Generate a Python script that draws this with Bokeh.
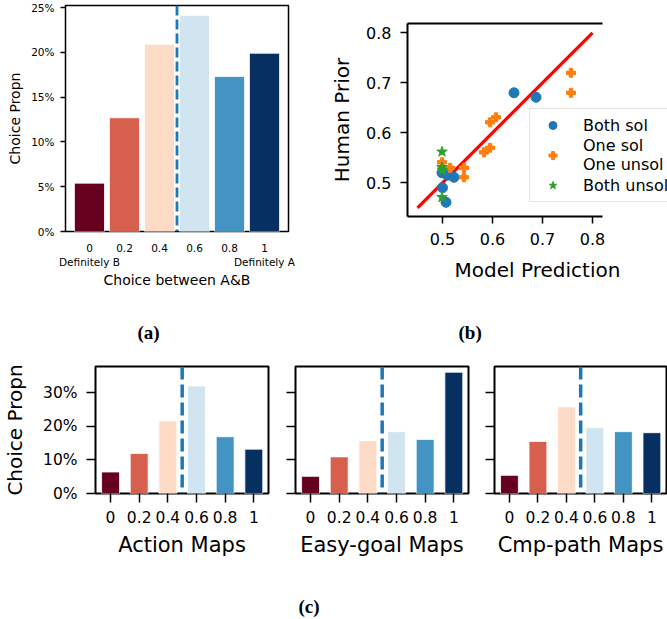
from bokeh.plotting import figure
from bokeh.models import (FixedTicker, NumeralTickFormatter, Span, Legend, LegendItem,
                          LinearAxis, Title, Range1d)
from bokeh.layouts import row, column
from bokeh.embed import file_html
from bokeh.resources import INLINE

# ---------------- data ----------------
choices = [0, 0.2, 0.4, 0.6, 0.8, 1]
choice_labels = ["0", "0.2", "0.4", "0.6", "0.8", "1"]
overall_propn = [0.054, 0.127, 0.209, 0.241, 0.173, 0.199]
action_propn = [0.064, 0.119, 0.216, 0.320, 0.169, 0.132]
easy_propn = [0.051, 0.109, 0.157, 0.184, 0.161, 0.361]
cmp_propn = [0.054, 0.155, 0.258, 0.196, 0.184, 0.181]
panel_c_titles = ["Action Maps", "Easy-goal Maps", "Cmp-path Maps"]

both_sol_x = [0.643, 0.687, 0.499, 0.510, 0.523, 0.500, 0.507]
both_sol_y = [0.680, 0.671, 0.520, 0.515, 0.511, 0.490, 0.461]
one_sol_x = [0.757, 0.757, 0.595, 0.607, 0.583, 0.595, 0.499, 0.500, 0.515, 0.543, 0.543]
one_sol_y = [0.720, 0.680, 0.621, 0.631, 0.561, 0.570, 0.541, 0.530, 0.530, 0.530, 0.511]
both_unsol_x = [0.499, 0.499, 0.500, 0.499]
both_unsol_y = [0.562, 0.531, 0.525, 0.471]
fit_x = [0.45, 0.80]
fit_y = [0.45, 0.80]

bar_colors = ["#67001f", "#d6604d", "#fddbc7", "#d1e5f0", "#4393c3", "#053061"]
FONT = "DejaVu Sans"
SERIF = "Liberation Serif"
DASH_BLUE = "#1f77b4"


def style_axis(ax, tick_size, label_size, tick_out, standoff, label_standoff):
    ax.major_label_text_font = FONT
    ax.major_label_text_font_size = tick_size
    ax.major_label_text_color = "black"
    ax.axis_label_text_font = FONT
    ax.axis_label_text_font_size = label_size
    ax.axis_label_text_font_style = "normal"
    ax.axis_label_text_color = "black"
    ax.major_tick_out = tick_out
    ax.major_tick_in = 0
    ax.minor_tick_out = 0
    ax.minor_tick_in = 0
    ax.major_tick_line_width = 1.5
    ax.major_tick_line_color = "black"
    ax.major_label_standoff = standoff
    ax.axis_label_standoff = label_standoff
    ax.axis_line_color = None


def caption(p, text, offset, standoff, side):
    p.add_layout(Title(text=text, align="left", offset=offset, standoff=standoff,
                       text_font=SERIF, text_font_style="bold", text_font_size="19px",
                       text_color="black"), side)


TOP_H = 295

# ---------------- panel (a) ----------------
pa = figure(width=320, height=TOP_H, x_range=Range1d(-0.137, 1.137), y_range=Range1d(0, 0.2523),
            output_backend="svg", toolbar_location=None,
            min_border_left=65, min_border_right=32, min_border_top=5,
            min_border_bottom=TOP_H - 5 - 226)
pa.vbar(x=choices, top=overall_propn, width=0.172, fill_color=bar_colors,
        line_color="white", line_width=0.8)
pa.add_layout(Span(location=0.5, dimension="height", line_color=DASH_BLUE,
                   line_width=2.8, line_dash="10 4"))
pa.xgrid.visible = False
pa.ygrid.visible = False
pa.outline_line_color = "black"
pa.outline_line_width = 1.5
pa.xaxis.ticker = FixedTicker(ticks=choices)
overrides_a = {c: l for c, l in zip(choices, choice_labels)}
overrides_a[0] = "0\nDefinitely B"
overrides_a[1] = "1\nDefinitely A"
pa.xaxis.major_label_overrides = overrides_a
pa.yaxis.ticker = FixedTicker(ticks=[0, 0.05, 0.10, 0.15, 0.20, 0.25])
pa.yaxis.formatter = NumeralTickFormatter(format="0%")
pa.xaxis.axis_label = "Choice between A&B"
pa.yaxis.axis_label = "Choice Propn"
style_axis(pa.xaxis[0], "10.5px", "14px", 0, 10, 1)
style_axis(pa.yaxis[0], "10.5px", "14px", 5, 6, 5)

# ---------------- panel (b) ----------------
B_X = (0.43, 0.82)
pb = figure(width=347, height=TOP_H, x_range=Range1d(0.43, 0.95), y_range=Range1d(0.4326, 0.8186),
            output_backend="svg", toolbar_location=None,
            min_border_left=87, min_border_right=0, min_border_top=23,
            min_border_bottom=TOP_H - 23 - 193)
pb.xgrid.visible = False
pb.ygrid.visible = False
pb.outline_line_color = None
pb.line(fit_x, fit_y, line_color="red", line_width=3.2)
r1 = pb.scatter(both_sol_x, both_sol_y, marker="circle", size=10, fill_color="#1f77b4",
                line_color="#1f77b4")
r2 = pb.scatter(one_sol_x, one_sol_y, marker="plus", size=9, fill_color="#ff7f0e",
                line_color="#ff7f0e")
r3 = pb.scatter(both_unsol_x, both_unsol_y, marker="star", size=11, fill_color="#2ca02c",
                line_color="#2ca02c")
pb.xaxis.ticker = FixedTicker(ticks=[0.5, 0.6, 0.7, 0.8])
pb.yaxis.ticker = FixedTicker(ticks=[0.5, 0.6, 0.7, 0.8])
pb.xaxis.axis_label = "Model Prediction"
pb.yaxis.axis_label = "Human Prior"
style_axis(pb.xaxis[0], "16px", "20px", 7, 9, 10)
style_axis(pb.yaxis[0], "16px", "20px", 7, 9, 9)
pb.xaxis[0].bounds = B_X
for ax in (pb.xaxis[0], pb.yaxis[0]):
    ax.axis_line_color = "black"
    ax.axis_line_width = 2
top_axis = LinearAxis(ticker=FixedTicker(ticks=[]), major_tick_out=0, major_tick_in=0,
                      minor_tick_out=0, minor_tick_in=0, axis_line_color="black",
                      axis_line_width=2, major_label_standoff=0, bounds=B_X)
pb.add_layout(top_axis, "above")
legend = Legend(items=[LegendItem(label="Both sol", renderers=[r1]),
                       LegendItem(label="One sol\nOne unsol", renderers=[r2]),
                       LegendItem(label="Both unsol", renderers=[r3])],
                location=(122, 14), label_text_font=FONT, label_text_font_size="16px",
                label_text_color="black", glyph_width=33, glyph_height=20, label_height=20,
                label_standoff=14, padding=6, spacing=1, border_line_color="#cccccc",
                border_line_width=1.5, background_fill_alpha=0.85)
pb.add_layout(legend)

# ---------------- panel (c) ----------------
BOT_TOP = 68
BOT_H = BOT_TOP + 130 + 80
panel_c_values = [action_propn, easy_propn, cmp_propn]
widths = [281, 204, 182]
lefts = [95, 14, 9]
rights = [13, 17, 1]
panels_c = []
for i, (vals, title) in enumerate(zip(panel_c_values, panel_c_titles)):
    p = figure(width=widths[i], height=BOT_H, x_range=Range1d(-0.105, 1.1025),
               y_range=Range1d(0, 0.378), output_backend="svg", toolbar_location=None,
               min_border_left=lefts[i], min_border_right=rights[i], min_border_top=BOT_TOP,
               min_border_bottom=BOT_H - BOT_TOP - 130)
    p.vbar(x=choices, top=vals, width=0.125, fill_color=bar_colors, line_color="white",
           line_width=0.8)
    p.add_layout(Span(location=0.5, dimension="height", line_color=DASH_BLUE,
                      line_width=3.5, line_dash="13 5"))
    p.xgrid.visible = False
    p.ygrid.visible = False
    p.outline_line_color = "black"
    p.outline_line_width = 2
    p.xaxis.ticker = FixedTicker(ticks=choices)
    p.xaxis.major_label_overrides = {c: l for c, l in zip(choices, choice_labels)}
    p.yaxis.ticker = FixedTicker(ticks=[0, 0.1, 0.2, 0.3])
    p.yaxis.formatter = NumeralTickFormatter(format="0%")
    p.xaxis.axis_label = title
    style_axis(p.xaxis[0], "15.5px", "21px", 9, 8, 7)
    if i == 0:
        p.yaxis.axis_label = "Choice Propn"
        style_axis(p.yaxis[0], "15.5px", "20px", 9, 9, 13)
    else:
        style_axis(p.yaxis[0], "15.5px", "20px", 9, 0, 0)
        p.yaxis.major_label_overrides = {0: "", 0.1: "", 0.2: "", 0.3: ""}
    panels_c.append(p)

caption(panels_c[0], "(a)", 42, 48, "above")
caption(panels_c[1], "(b)", 163, 48, "above")

# caption strip for (c)
CAP_H = 617 - TOP_H - BOT_H
cap = figure(width=667, height=CAP_H, x_range=Range1d(0, 1), y_range=Range1d(0, 1),
             output_backend="svg", toolbar_location=None, x_axis_location=None,
             y_axis_location=None, min_border_left=0, min_border_right=0,
             min_border_top=CAP_H - 2, min_border_bottom=0)
cap.outline_line_color = None
cap.xgrid.visible = False
cap.ygrid.visible = False
caption(cap, "(c)", 298, 2 * (CAP_H - 2 - 32 - 9) - 4, "above")

layout = column(row(column(pa), column(pb)), row(*panels_c), cap)
open("out.html", "w").write(file_html(layout, INLINE))
